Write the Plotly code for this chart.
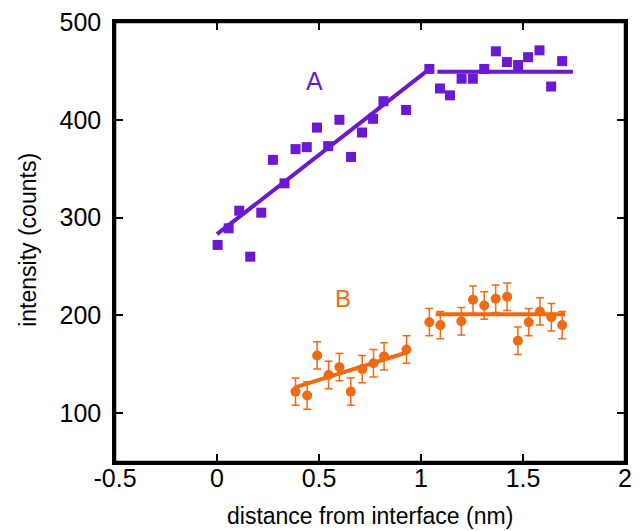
import plotly.graph_objects as go

PURPLE = '#6a18d4'
ORANGE = '#ef6a12'

# series A (squares)
a_x = [0.003, 0.057, 0.109, 0.163, 0.217, 0.274, 0.331, 0.385, 0.44, 0.49,
       0.545, 0.6, 0.657, 0.711, 0.765, 0.816, 0.927, 1.041, 1.093, 1.142,
       1.199, 1.254, 1.31, 1.367, 1.421, 1.476, 1.525, 1.581, 1.638, 1.692]
a_y = [272, 289, 307, 260, 305, 359, 335, 370, 372, 392,
       373, 400, 362, 387, 401, 419, 410, 452, 432, 425,
       442, 442, 452, 470, 459, 456, 464, 471, 434, 460]

# series B (circles with error bars)
b_x = [0.385, 0.442, 0.491, 0.547, 0.6, 0.656, 0.712, 0.767, 0.819, 0.929,
       1.041, 1.095, 1.198, 1.255, 1.31, 1.366, 1.422, 1.475, 1.528, 1.583,
       1.639, 1.692]
b_y = [122, 118, 159, 139, 147, 122, 145, 151, 158, 165,
       193, 190, 194, 216, 210, 217, 219, 174, 193, 204,
       198, 190]
b_err = [14, 14, 14, 14, 14, 14, 14, 14, 14, 14,
         14, 14, 14, 14, 14, 14, 14, 14, 14, 14,
         14, 14]

# fitted lines
a_fit1_x = [0.0, 1.036]
a_fit1_y = [283, 451]
a_fit2_x = [1.08, 1.745]
a_fit2_y = [449, 449]
b_fit1_x = [0.379, 0.93]
b_fit1_y = [126, 162]
b_fit2_x = [1.072, 1.706]
b_fit2_y = [201, 201]

FONT = 'Liberation Sans, Arial'

fig = go.Figure()

for fx, fy, c in [(a_fit1_x, a_fit1_y, PURPLE), (a_fit2_x, a_fit2_y, PURPLE),
                  (b_fit1_x, b_fit1_y, ORANGE), (b_fit2_x, b_fit2_y, ORANGE)]:
    fig.add_trace(go.Scatter(x=fx, y=fy, mode='lines',
                             line=dict(color=c, width=4), showlegend=False))

fig.add_trace(go.Scatter(
    x=a_x, y=a_y, mode='markers',
    marker=dict(symbol='square', size=10, color=PURPLE),
    showlegend=False,
))

fig.add_trace(go.Scatter(
    x=b_x, y=b_y, mode='markers',
    marker=dict(symbol='circle', size=10, color=ORANGE),
    error_y=dict(type='data', array=b_err, color=ORANGE, thickness=1.5, width=4),
    showlegend=False,
))

fig.add_annotation(x=0.476, y=440, text='A', showarrow=False,
                   font=dict(family=FONT, size=25, color=PURPLE))
fig.add_annotation(x=0.617, y=217, text='B', showarrow=False,
                   font=dict(family=FONT, size=24, color=ORANGE))

# axis titles as annotations so they sit where the original has them
fig.add_annotation(xref='paper', yref='paper', x=0.5, y=0, yshift=-54,
                   xanchor='center', yanchor='middle',
                   text='distance from interface (nm)', showarrow=False,
                   font=dict(family=FONT, size=23, color='black'))
fig.add_annotation(xref='paper', yref='paper', x=0, y=0.505, xshift=-87,
                   xanchor='center', yanchor='middle',
                   text='intensity (counts)', textangle=-90, showarrow=False,
                   font=dict(family=FONT, size=23, color='black'))

# plot frame
fig.add_shape(type='rect', xref='paper', yref='paper', x0=0, y0=0, x1=1, y1=1,
              line=dict(color='black', width=2.5), layer='above')

axis_style = dict(
    showline=True, linecolor='black', linewidth=2.5, mirror='ticks',
    ticks='inside', ticklen=8, tickwidth=2, tickcolor='black',
    showgrid=False, zeroline=False, automargin=False,
    ticklabeloverflow='allow',
    tickfont=dict(family=FONT, size=25, color='black'),
)

fig.update_xaxes(range=[-0.5, 2], tickvals=[-0.5, 0, 0.5, 1, 1.5, 2],
                 ticktext=['-0.5', '0', '0.5', '1', '1.5', '2'],
                 ticklabelstandoff=-8, **axis_style)
fig.update_yaxes(range=[50, 500], tickvals=[100, 200, 300, 400, 500],
                 ticklabelstandoff=6, **axis_style)

# the page body adds an 8px offset, so the figure is 8px smaller than the window
fig.update_layout(
    width=635, height=523,
    margin=dict(l=107, r=18, t=14, b=69),
    plot_bgcolor='white', paper_bgcolor='white',
    font=dict(family=FONT),
)

fig.write_html('out.html')
